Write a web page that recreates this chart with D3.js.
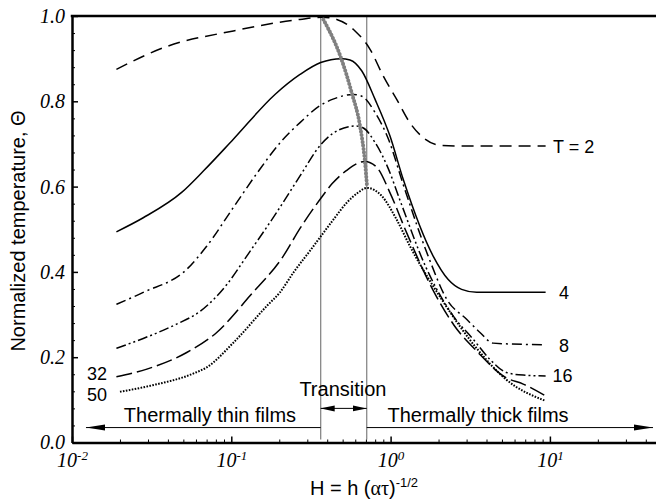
<!DOCTYPE html>
<html>
<head>
<meta charset="utf-8">
<script src="https://cdn.jsdelivr.net/npm/d3@7"></script>
<style>
  body { margin: 0; background: #fff; }
  svg { display: block; }
</style>
</head>
<body>
<div id="chart"></div>
<script>
// curves: H = h (alpha tau)^-1/2 and normalized temperature
const h2  = [0.019, 0.039, 0.103, 0.27, 0.37, 0.459, 0.598, 0.743, 0.90, 1.09, 1.32, 1.60, 2.04, 3.0, 9.4];
const th2 = [0.875, 0.928, 0.965, 0.992, 0.997, 0.992, 0.965, 0.922, 0.859, 0.805, 0.75, 0.715, 0.697, 0.695, 0.695];

const h4  = [0.019, 0.028, 0.049, 0.067, 0.103, 0.188, 0.27, 0.364, 0.49, 0.556, 0.66, 0.798, 0.99, 1.20, 1.85, 2.30, 2.79, 3.47, 9.4];
const th4 = [0.494, 0.527, 0.587, 0.637, 0.711, 0.816, 0.863, 0.891, 0.90, 0.897, 0.871, 0.805, 0.719, 0.617, 0.437, 0.382, 0.359, 0.352, 0.352];

const h8  = [0.019, 0.028, 0.0525, 0.070, 0.103, 0.146, 0.207, 0.27, 0.364, 0.435, 0.58, 0.66, 0.798, 0.97, 1.20, 1.75, 2.25, 3.0, 3.64, 4.4, 9.4];
const th8 = [0.324, 0.352, 0.406, 0.46, 0.551, 0.633, 0.707, 0.75, 0.791, 0.805, 0.816, 0.812, 0.774, 0.711, 0.605, 0.43, 0.336, 0.289, 0.258, 0.233, 0.229];

const h16  = [0.019, 0.028, 0.045, 0.064, 0.094, 0.125, 0.193, 0.27, 0.364, 0.435, 0.598, 0.67, 0.80, 0.97, 1.14, 1.67, 2.47, 3.3, 4.2, 5.35, 6.8, 9.4];
const th16 = [0.221, 0.244, 0.277, 0.308, 0.371, 0.437, 0.54, 0.625, 0.698, 0.725, 0.742, 0.738, 0.703, 0.641, 0.570, 0.41, 0.297, 0.242, 0.195, 0.164, 0.158, 0.156];

const h32  = [0.019, 0.0295, 0.0525, 0.081, 0.131, 0.212, 0.27, 0.364, 0.43, 0.53, 0.69, 0.82, 0.99, 1.26, 1.86, 2.5, 3.5, 5.3, 6.8, 9.4];
const th32 = [0.154, 0.172, 0.211, 0.258, 0.344, 0.437, 0.502, 0.572, 0.607, 0.638, 0.659, 0.645, 0.586, 0.492, 0.355, 0.275, 0.213, 0.152, 0.137, 0.109];

const h50  = [0.02, 0.031, 0.058, 0.07, 0.103, 0.167, 0.202, 0.245, 0.32, 0.364, 0.436, 0.53, 0.62, 0.71, 0.88, 1.09, 1.32, 2.14, 3.5, 5.3, 9.4];
const th50 = [0.119, 0.133, 0.162, 0.176, 0.234, 0.32, 0.352, 0.398, 0.455, 0.483, 0.522, 0.562, 0.585, 0.597, 0.578, 0.523, 0.461, 0.33, 0.219, 0.148, 0.0975];

// locus of the maxima (grey beaded line)
const hPeak  = [0.378, 0.49, 0.57, 0.643, 0.69, 0.71];
const thPeak = [0.992, 0.90, 0.82, 0.742, 0.659, 0.605];

// transition region bounds
const transitionH = [0.364, 0.708];

const seriesNames = ["T = 2", "4", "8", "16", "32", "50"];
const labelH      = [10.46, 11.4, 11.4, 10.4, 0.0124, 0.0124];
const labelTheta  = [0.695, 0.352, 0.227, 0.156, 0.162, 0.113];

const xMajor = [0.01, 0.1, 1, 10];
const yMajor = [0, 0.2, 0.4, 0.6, 0.8, 1.0];

var width = 656, height = 500;
var padLeft = 72, padTop = 16, axisY = 442.5;
var decade = 159.3;

var x = d3.scaleLog().domain([0.01, 50]).range([padLeft, padLeft + decade * Math.log10(5000)]);
var y = d3.scaleLinear().domain([0, 1]).range([axisY, padTop]);

var svg = d3.select("#chart").append("svg")
    .attr("width", width)
    .attr("height", height);

var defs = svg.append("defs");
defs.append("marker")
    .attr("id", "head")
    .attr("markerUnits", "userSpaceOnUse")
    .attr("viewBox", "0 -4 19 8")
    .attr("refX", 19).attr("refY", 0)
    .attr("markerWidth", 19).attr("markerHeight", 8)
    .attr("orient", "auto-start-reverse")
  .append("path")
    .attr("d", "M0,-3L19,0L0,3Z")
    .attr("fill", "#000");
defs.append("marker")
    .attr("id", "headSmall")
    .attr("markerUnits", "userSpaceOnUse")
    .attr("viewBox", "0 -4 14 8")
    .attr("refX", 14).attr("refY", 0)
    .attr("markerWidth", 14).attr("markerHeight", 8)
    .attr("orient", "auto-start-reverse")
  .append("path")
    .attr("d", "M0,-3L14,0L0,3Z")
    .attr("fill", "#000");

// vertical lines bounding the transition
svg.selectAll(".bound")
  .data(transitionH)
  .enter().append("line")
    .attr("x1", d => x(d)).attr("x2", d => x(d))
    .attr("y1", y(1)).attr("y2", y(0.007))
    .attr("stroke", "#888").attr("stroke-width", 1.3);

// series
var line = d3.line()
    .x(d => x(d[0]))
    .y(d => y(d[1]))
    .curve(d3.curveMonotoneX);

const series = [
  { h: h2,  t: th2,  dash: "12,7" },
  { h: h4,  t: th4,  dash: null },
  { h: h8,  t: th8,  dash: "10,4,2,4" },
  { h: h16, t: th16, dash: "10,3,2,3,2,3" },
  { h: h32, t: th32, dash: "16,5" },
  { h: h50, t: th50, dash: "1.6,1.4" }
];

series.forEach(function(s, i) {
  svg.append("path")
    .datum(s.h.map((v, j) => [v, s.t[j]]))
    .attr("d", line)
    .attr("fill", "none")
    .attr("stroke", "#000")
    .attr("stroke-width", i == 5 ? 2 : 1.5)
    .attr("stroke-dasharray", s.dash);
});

// grey locus of maxima
svg.append("path")
  .datum(hPeak.map((v, j) => [v, thPeak[j]]))
  .attr("d", line)
  .attr("fill", "none")
  .attr("stroke", "#808080")
  .attr("stroke-width", 4)
  .attr("stroke-linecap", "round")
  .attr("stroke-dasharray", "0.1,3.4");

var sans = "Liberation Sans, Arial, sans-serif";
var serif = "Liberation Serif, Times New Roman, serif";

// series labels
svg.selectAll(".lab")
  .data(seriesNames)
  .enter().append("text")
    .attr("x", (d, i) => x(labelH[i]))
    .attr("y", (d, i) => y(labelTheta[i]))
    .attr("dy", "0.36em")
    .attr("font-family", sans)
    .attr("font-size", 18)
    .text(d => d);

// arrows
svg.append("line")
  .attr("x1", x(transitionH[0])).attr("x2", x(0.01224))
  .attr("y1", y(0.035)).attr("y2", y(0.035))
  .attr("stroke", "#000").attr("stroke-width", 1)
  .attr("marker-end", "url(#head)");
svg.append("line")
  .attr("x1", x(transitionH[1])).attr("x2", x(44.4))
  .attr("y1", y(0.035)).attr("y2", y(0.035))
  .attr("stroke", "#000").attr("stroke-width", 1)
  .attr("marker-end", "url(#head)");
svg.append("line")
  .attr("x1", x(transitionH[0])).attr("x2", x(transitionH[1]))
  .attr("y1", y(0.08)).attr("y2", y(0.08))
  .attr("stroke", "#000").attr("stroke-width", 1)
  .attr("marker-start", "url(#headSmall)")
  .attr("marker-end", "url(#headSmall)");

svg.append("text")
  .attr("x", x(0.0735)).attr("y", y(0.047))
  .attr("text-anchor", "middle")
  .attr("font-family", sans).attr("font-size", 20)
  .text("Thermally thin films");
svg.append("text")
  .attr("x", x(3.54)).attr("y", y(0.047))
  .attr("text-anchor", "middle")
  .attr("font-family", sans).attr("font-size", 20)
  .text("Thermally thick films");
svg.append("text")
  .attr("x", x(0.502)).attr("y", y(0.109))
  .attr("text-anchor", "middle")
  .attr("font-family", sans).attr("font-size", 20)
  .text("Transition");

// axes
var xMinor = x.ticks().filter(d => xMajor.indexOf(d) < 0);
var yMinor = d3.range(0, 1.001, 0.04).filter(d => Math.abs(d * 5 - Math.round(d * 5)) > 1e-6);

svg.append("g")
  .attr("transform", "translate(0," + axisY + ")")
  .call(d3.axisBottom(x).tickValues(xMinor).tickSize(-3).tickSizeOuter(0).tickFormat(""))
  .call(g => g.select(".domain").remove());

var xAxis = svg.append("g")
  .attr("transform", "translate(0," + axisY + ")")
  .call(d3.axisBottom(x).tickValues(xMajor).tickSize(-6).tickSizeOuter(0).tickPadding(10));
xAxis.select(".domain").attr("stroke-width", 2.5);
xAxis.selectAll(".tick line").attr("stroke-width", 1.5);
xAxis.selectAll(".tick text")
  .attr("font-family", serif)
  .attr("font-style", "italic")
  .attr("font-size", 20)
  .attr("fill", "#000")
  .each(function(d) {
    var t = d3.select(this).text("");
    t.append("tspan").text("10");
    t.append("tspan")
      .attr("font-size", 13)
      .attr("dy", "-0.55em")
      .text(Math.round(Math.log10(d)));
  });

svg.append("g")
  .attr("transform", "translate(" + padLeft + ",0)")
  .call(d3.axisLeft(y).tickValues(yMinor).tickSize(-3).tickSizeOuter(0).tickFormat(""))
  .call(g => g.select(".domain").remove());

var yAxis = svg.append("g")
  .attr("transform", "translate(" + padLeft + ",0)")
  .call(d3.axisLeft(y).tickValues(yMajor).tickSize(-6).tickSizeOuter(0).tickPadding(7).tickFormat(d3.format(".1f")));
yAxis.select(".domain").attr("stroke-width", 2.5);
yAxis.selectAll(".tick line").attr("stroke-width", 1.5);
yAxis.selectAll(".tick text")
  .attr("font-family", serif)
  .attr("font-style", "italic")
  .attr("font-size", 20)
  .attr("fill", "#000");

// top frame line
svg.append("line")
  .attr("x1", padLeft - 1.25).attr("x2", x(50))
  .attr("y1", padTop).attr("y2", padTop)
  .attr("stroke", "#000").attr("stroke-width", 2.5);

// axis titles
var xt = svg.append("text")
  .attr("x", 364).attr("y", 495)
  .attr("text-anchor", "middle")
  .attr("font-family", sans).attr("font-size", 20);
xt.append("tspan").text("H = h (");
xt.append("tspan").attr("font-family", serif).text("ατ");
xt.append("tspan").text(")");
xt.append("tspan").attr("font-size", 13).attr("dy", "-0.6em").text("-1/2");

svg.append("text")
  .attr("transform", "translate(25,231) rotate(-90)")
  .attr("text-anchor", "middle")
  .attr("font-family", sans).attr("font-size", 20)
  .text("Normalized temperature, Θ");
</script>
</body>
</html>
